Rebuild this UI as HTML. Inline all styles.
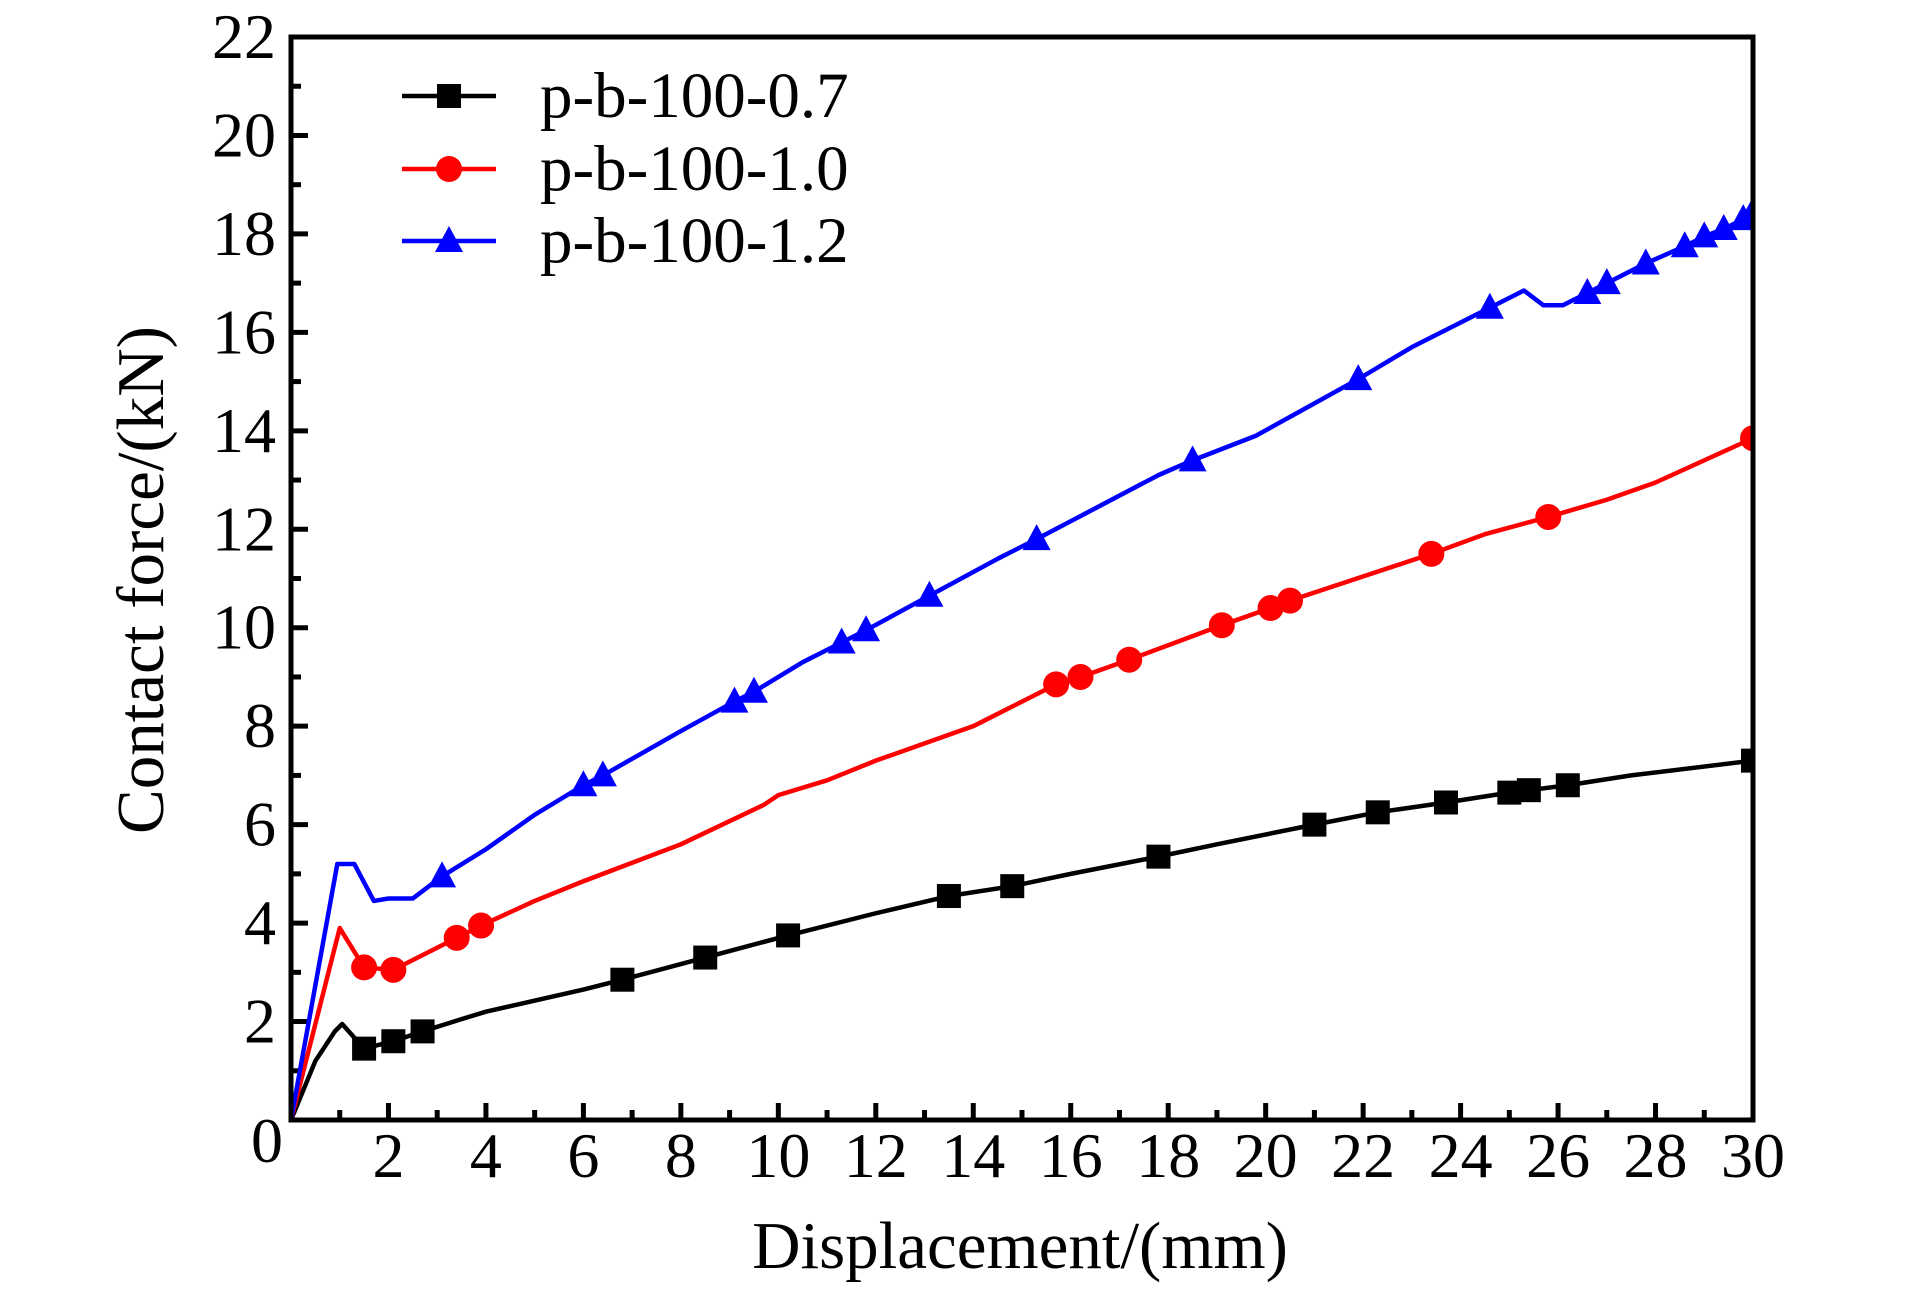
<!DOCTYPE html>
<html><head><meta charset="utf-8"><style>
html,body{margin:0;padding:0;background:#fff;}
svg{display:block;}
text{font-family:"Liberation Serif",serif;fill:#000;}
</style></head><body>
<svg id="chart" width="1923" height="1299" viewBox="0 0 1923 1299" xmlns="http://www.w3.org/2000/svg"></svg>
<script>
const xTicks = [0,2,4,6,8,10,12,14,16,18,20,22,24,26,28,30];
const yTicks = [0,2,4,6,8,10,12,14,16,18,20,22];
const seriesNames = ["p-b-100-0.7","p-b-100-1.0","p-b-100-1.2"];
const blackX = [0,0.5,0.9,1.05,1.5,2.1,2.7,3.5,4,6,6.8,8.5,10.2,12,13.5,14.8,16,17.8,19,21,22.3,23.7,25,25.4,26.2,27.5,30];
const blackY = [0,1.2,1.8,1.95,1.45,1.6,1.8,2.05,2.2,2.65,2.85,3.3,3.75,4.2,4.55,4.75,5.0,5.35,5.6,6.0,6.25,6.45,6.65,6.7,6.8,7.0,7.3];
const blackMarkers = [1.5,2.1,2.7,6.8,8.5,10.2,13.5,14.8,17.8,21,22.3,23.7,25,25.4,26.2,30];
const redX = [0,1,1.5,2.1,3.4,3.9,5,6,8,9.7,10,11,12,14,15.7,16.2,17.2,19.1,20.1,20.5,23.4,24.5,25.8,27,28,30];
const redY = [0,3.9,3.1,3.05,3.7,3.95,4.45,4.85,5.6,6.4,6.6,6.9,7.3,8.0,8.85,9.0,9.35,10.05,10.4,10.55,11.5,11.9,12.25,12.6,12.95,13.85];
const redMarkers = [1.5,2.1,3.4,3.9,15.7,16.2,17.2,19.1,20.1,20.5,23.4,25.8,30];
const blueX = [0,0.95,1.3,1.7,2,2.5,3.1,4,5,6,6.4,8,9.1,9.5,10.5,11.3,11.8,13.1,14.5,15.3,17.8,18.5,19.8,21.9,23,24.6,25.3,25.7,26.1,26.6,27,27.8,28.6,29,29.4,29.8,30];
const blueY = [0,5.2,5.2,4.45,4.5,4.5,4.95,5.5,6.2,6.8,7.0,7.9,8.5,8.7,9.3,9.7,9.95,10.65,11.4,11.8,13.1,13.4,13.9,15.05,15.7,16.5,16.85,16.55,16.55,16.8,17.0,17.4,17.75,17.95,18.1,18.3,18.45];
const blueMarkers = [3.1,6,6.4,9.1,9.5,11.3,11.8,13.1,15.3,18.5,21.9,24.6,26.6,27,27.8,28.6,29,29.4,29.8,30];

const NS="http://www.w3.org/2000/svg";
const svg=document.getElementById('chart');
const L=291,R=1753,T=37,B=1120;
const sx=v=>L+(v-0)/(30-0)*(R-L);
const sy=v=>B-(v-0)/(22-0)*(B-T);
function mk(tag,attrs,parent){const e=document.createElementNS(NS,tag);for(const k in attrs)e.setAttribute(k,attrs[k]);(parent||svg).appendChild(e);return e;}

const defs=mk('defs',{});
const cp=mk('clipPath',{id:'plotclip'},defs);
mk('rect',{x:L,y:T,width:R-L,height:B-T},cp);

for(let i=0;i<xTicks.length;i++){
  const v=xTicks[i];
  const t=mk('line',{x1:sx(v),x2:sx(v),y1:B,y2:B-17,stroke:'#000','stroke-width':5});
  
  
  if(i<xTicks.length-1){
    const m=mk('line',{x1:sx(v+1),x2:sx(v+1),y1:B,y2:B-10,stroke:'#000','stroke-width':5});
    
    
  }
  if(v!==0){
    const tx=mk('text',{x:sx(v),y:1177,'font-size':64,'text-anchor':'middle'});
    tx.textContent=v;
    
    
  }
}
for(let i=0;i<yTicks.length;i++){
  const v=yTicks[i];
  const t=mk('line',{x1:L,x2:L+17,y1:sy(v),y2:sy(v),stroke:'#000','stroke-width':5});
  
  
  if(i<yTicks.length-1){
    const m=mk('line',{x1:L,x2:L+10,y1:sy(v+1),y2:sy(v+1),stroke:'#000','stroke-width':5});
    
    
  }
  const tx=mk('text',{x:v===0?283:276,y:sy(v)+(v===0?42:21),'font-size':64,'text-anchor':'end'});
  tx.textContent=v;
  
  
}

const colors=['#000','#f00','#00f'];
const sets=[[blackX,blackY,blackMarkers],[redX,redY,redMarkers],[blueX,blueY,blueMarkers]];
const keys=['black','red','blue'];
function marker(kind,cx,cy,color,parent){
  let e;
  if(kind===0) e=mk('rect',{x:cx-12,y:cy-12,width:24,height:24,fill:color},parent);
  else if(kind===1) e=mk('circle',{cx:cx,cy:cy,r:13,fill:color},parent);
  else e=mk('polygon',{points:`${cx},${cy-15} ${cx-14},${cy+11} ${cx+14},${cy+11}`,fill:color},parent);
  return e;
}
for(let s=0;s<3;s++){
  const [xs,ys,ms]=sets[s];
  const g=mk('g',{'clip-path':'url(#plotclip)'});
  
  
  const pts=xs.map((x,i)=>sx(x)+','+sy(ys[i])).join(' ');
  const pl=mk('polyline',{points:pts,fill:'none',stroke:colors[s],'stroke-width':4.5,'stroke-linejoin':'round'},g);
  
  
  ms.forEach(mx=>{
    const i=xs.indexOf(mx);
    if(i<0)return;
    const e=marker(s,sx(xs[i]),sy(ys[i]),colors[s],g);
    
    
  });
}

const fr=mk('rect',{x:L,y:T,width:R-L,height:B-T,fill:'none',stroke:'#000','stroke-width':5});



const lg=mk('g',{});


const legY=[96,169,241];
for(let s=0;s<3;s++){
  const y=legY[s];
  const ln=mk('line',{x1:402,x2:496,y1:y,y2:y,stroke:colors[s],'stroke-width':4.5},lg);
  
  
  const m=marker(s,449,y,colors[s],lg);
  
  
  const t=mk('text',{x:540,y:y+21,'font-size':65},lg);
  t.textContent=seriesNames[s];
  
  
}

const xt=mk('text',{x:1020,y:1268,'font-size':67,'text-anchor':'middle'});
xt.textContent='Displacement/(mm)';


const yt=mk('text',{x:0,y:0,'font-size':67,'text-anchor':'middle',transform:'translate(163,580) rotate(-90)'});
yt.textContent='Contact force/(kN)';


</script>
</body></html>
